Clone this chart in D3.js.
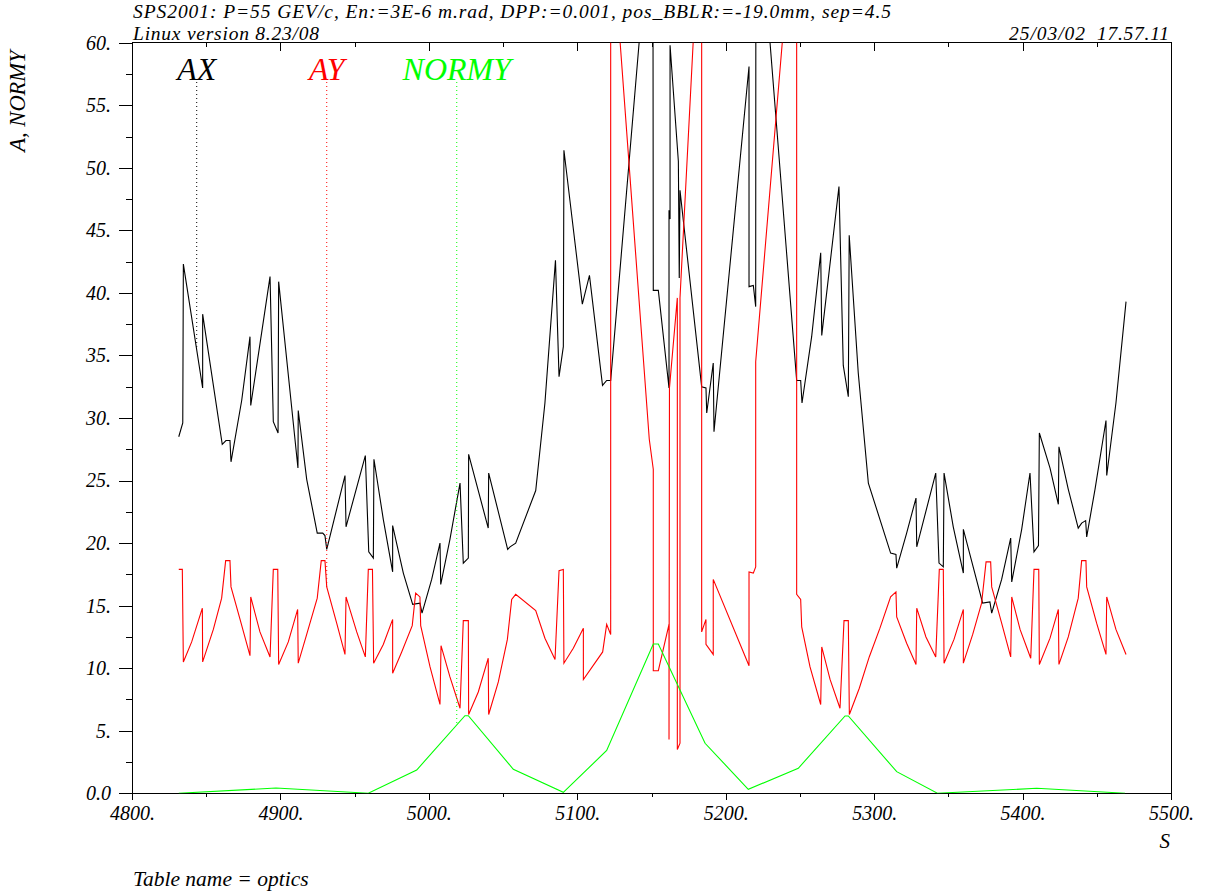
<!DOCTYPE html>
<html><head><meta charset="utf-8">
<script src="https://cdn.jsdelivr.net/npm/d3@7"></script>
<style>
html,body{margin:0;padding:0;background:#fff;}
text{font-family:"Liberation Serif","Times New Roman",serif;font-style:italic;}
</style></head>
<body>
<svg id="chart" width="1207" height="894"></svg>
<script>
// ---- data ----
const sAX = [4831.5,4834.2,4834.6,4847.6,4847.6,4860.8,4863.3,4866.0,4866.7,4873.9,
4879.5,4880.0,4893.0,4895.2,4898.4,4898.8,4911.8,4912.0,4917.7,4924.8,
4928.5,4930.0,4931.2,4943.5,4944.2,4957.2,4959.5,4962.6,4963.0,4969.3,
4975.6,4975.6,4982.8,4989.1,4994.0,4995.4,5001.9,5007.5,5008.0,5014.2,
5021.0,5023.2,5026.6,5026.8,5040.0,5040.3,5053.1,5054.7,5058.5,5072.0,
5078.2,5085.3,5087.7,5090.6,5091.0,5103.4,5108.2,5117.0,5119.8,5122.5,
5144.5,5151.0,5151.2,5154.6,5161.8,5161.8,5162.5,5162.5,5168.1,5168.7,
5169.2,5183.8,5186.7,5187.2,5191.6,5192.1,5215.7,5215.7,5218.6,5220.2,
5220.3,5227.2,5247.8,5250.5,5251.4,5257.9,5264.0,5264.7,5276.3,5279.2,
5282.6,5283.2,5289.3,5296.1,5311.1,5314.7,5315.2,5321.9,5328.2,5328.7,
5341.5,5343.7,5346.6,5347.1,5353.3,5360.1,5360.1,5373.1,5378.0,5379.2,
5385.9,5392.0,5392.7,5399.4,5405.0,5407.7,5410.7,5411.3,5418.5,5424.1,
5424.5,5430.8,5437.5,5439.8,5442.5,5443.2,5448.8,5456.2,5456.7,5462.9,
5469.7];
const ax = [28.5,29.6,42.3,32.4,38.3,27.9,28.2,28.2,26.5,31.4,
36.5,31.0,41.3,29.7,28.8,40.9,26.0,30.6,25.1,20.8,
20.8,20.6,19.5,25.4,21.3,27.0,19.3,18.8,26.7,21.9,
17.7,21.4,17.6,15.1,15.2,14.4,17.1,20.0,16.7,20.3,
24.8,18.4,18.8,27.1,21.2,25.6,19.5,19.7,20.0,24.2,
31.2,42.6,33.3,35.7,51.4,39.1,41.4,32.6,33.0,33.0,
64,64,40.2,40.2,32.4,46.6,45.9,59.8,50.5,41.2,
48.2,32.5,32.4,30.4,34.4,28.9,58.1,40.5,40.6,38.9,
64,64,33.0,33.0,31.2,36.5,43.2,36.6,48.5,34.2,
31.7,44.6,33.6,24.8,19.2,19.1,18.0,20.8,23.6,19.7,
25.6,18.4,18.1,25.6,21.3,17.6,21.1,15.2,15.3,14.4,
17.1,20.4,16.9,21.1,25.6,19.3,19.8,28.8,26.0,23.1,
27.7,24.3,21.2,21.6,21.8,20.5,24.3,29.8,25.4,31.2,
39.3];

const sAY = [4831.5,4833.9,4834.6,4840.2,4847.4,4847.6,4854.8,4860.4,4863.1,4866.0,
4866.7,4872.8,4879.5,4880.0,4886.2,4893.0,4895.2,4898.2,4898.8,4905.3,
4911.6,4912.0,4917.7,4924.8,4927.5,4930.0,4931.2,4937.9,4943.5,4944.2,
4951.4,4957.2,4959.2,4962.0,4962.8,4969.3,4975.6,4975.6,4981.7,4988.8,
4991.1,4994.0,4994.5,5000.8,5007.5,5008.2,5014.2,5021.0,5023.2,5026.6,
5026.8,5033.3,5040.0,5040.3,5046.8,5052.9,5055.8,5058.5,5072.0,5078.2,
5085.0,5087.7,5090.6,5091.0,5097.3,5104.1,5104.1,5117.1,5119.8,5122.5,
5122.5,5126.4,5148.5,5151.2,5151.2,5154.6,5161.8,5161.8,5162.1,5167.4,
5167.4,5169.2,5169.2,5179.8,5183.8,5183.8,5186.7,5186.7,5191.6,5191.6,
5215.7,5215.7,5218.6,5220.2,5220.2,5240.9,5247.8,5247.8,5250.5,5251.2,
5256.8,5264.0,5264.7,5270.3,5277.0,5279.7,5282.6,5283.3,5290.0,5296.7,
5303.9,5311.1,5314.7,5315.2,5321.9,5328.2,5328.7,5334.9,5341.5,5343.9,
5346.6,5347.1,5353.8,5360.1,5360.1,5366.4,5372.4,5375.4,5378.5,5379.2,
5385.9,5392.0,5392.7,5398.3,5405.5,5407.7,5410.9,5411.3,5418.5,5424.1,
5424.5,5430.8,5437.5,5439.8,5442.7,5443.2,5449.9,5456.2,5456.7,5462.9,
5469.7];
const ay = [17.9,17.9,10.5,12.1,14.8,10.5,13.1,15.6,18.6,18.6,
16.5,13.9,11.0,15.7,12.9,10.9,17.9,17.9,10.3,12.1,
14.7,10.4,12.7,15.6,18.6,18.6,16.5,13.6,11.1,15.7,
12.9,10.9,17.9,17.9,10.4,11.9,13.9,9.6,11.3,13.4,
16.0,15.7,13.4,10.1,7.1,11.8,9.3,6.8,13.8,13.8,
6.3,8.1,10.8,6.3,8.9,12.3,15.5,15.9,14.6,12.4,
10.7,17.8,17.9,10.4,11.6,13.2,9.1,11.3,13.5,12.7,
64,64,28.3,25.9,9.8,9.8,13.5,4.3,32.4,39.6,
3.5,4.0,39.6,64,64,12.9,13.9,11.9,11.1,17.1,
10.2,17.7,17.6,18.1,34.5,64,64,15.9,15.5,13.3,
10.1,7.1,11.7,9.1,6.8,13.8,13.8,6.3,8.4,10.9,
13.2,15.7,16.1,14.1,12.0,10.3,14.8,12.5,10.9,17.9,
17.9,10.4,12.3,14.7,10.4,12.7,15.2,18.5,18.5,16.5,
13.6,10.9,15.7,13.1,10.8,17.9,17.9,10.3,12.4,14.7,
10.3,12.5,15.6,18.6,18.6,16.5,13.6,11.1,15.7,13.1,
11.1];

const sN = [4831.5,4897.0,4959.2,4991.8,5024.3,5026.6,5056.9,5090.6,5119.8,5151.2,
5154.6,5186.1,5215.2,5248.9,5280.4,5282.6,5315.2,5342.6,5409.5,5469.0];
const normy = [0,0.42,0,1.86,6.2,6.2,1.92,0.08,3.42,11.94,
11.94,4.0,0.32,2.0,6.18,6.18,1.73,0,0.4,0];

const seriesNames = ["AX","AY","NORMY"];
const seriesColors = ["#000000","#ff0000","#00ff00"];
const legendS = [4843.6, 4931.2, 5018.8];   // s where each label's dotted line sits

const xMajor = [4800,4900,5000,5100,5200,5300,5400,5500];
const xMinor = [4850,4950,5050,5150,5250,5350,5450];
const yMajor = [0,5,10,15,20,25,30,35,40,45,50,55,60];
const yMinor = [2.5,7.5,12.5,17.5,22.5,27.5,32.5,37.5,42.5,47.5,52.5,57.5];

const titleLine1 = "SPS2001: P=55 GEV/c, En:=3E-6 m.rad, DPP:=0.001, pos_BBLR:=-19.0mm, sep=4.5";
const titleLine2 = "Linux version 8.23/08";
const dateText = "25/03/02";
const timeText = "17.57.11";
const xTitle = "S";
const yTitle = "A, NORMY";
const footer = "Table name = optics";

// ---- drawing ----
const svg = d3.select("#chart");
const L = 132, R = 1171, T = 42.7, B = 793.3;
const x = d3.scaleLinear().domain([4800,5500]).range([L,R]);
const y = d3.scaleLinear().domain([0,60]).range([B,T]);

svg.append("defs").append("clipPath").attr("id","clip")
  .append("rect").attr("x",L).attr("y",T).attr("width",R-L).attr("height",B-T);

const fmtY = d => d===0 ? "0.0" : d + ".";
const fmtX = d => d + ".";

function styleAxis(g){
  g.selectAll(".domain").remove();
  g.selectAll("line").attr("stroke","#000").attr("stroke-width",1).attr("shape-rendering","crispEdges");
  g.selectAll("text").attr("font-size",20).attr("fill","#000")
    .attr("font-family","Liberation Serif, serif").attr("font-style","italic");
}
svg.append("g").attr("transform",`translate(${L},0)`)
  .call(d3.axisLeft(y).tickValues(yMajor).tickFormat(fmtY).tickSize(13).tickPadding(8))
  .call(styleAxis);
svg.append("g").attr("transform",`translate(${L},0)`)
  .call(d3.axisLeft(y).tickValues(yMinor).tickFormat("").tickSize(6))
  .call(styleAxis);
svg.append("g").attr("transform",`translate(0,${B})`)
  .call(d3.axisBottom(x).tickValues(xMajor).tickFormat(fmtX).tickSize(7).tickPadding(6))
  .call(styleAxis);
svg.append("g").attr("transform",`translate(0,${B})`)
  .call(d3.axisBottom(x).tickValues(xMinor).tickFormat("").tickSize(4))
  .call(styleAxis);
svg.append("g").attr("transform",`translate(0,${T})`)
  .call(d3.axisTop(x).tickValues(xMajor).tickFormat("").tickSize(-8))
  .call(styleAxis);
svg.append("g").attr("transform",`translate(0,${T})`)
  .call(d3.axisTop(x).tickValues(xMinor).tickFormat("").tickSize(-4))
  .call(styleAxis);

svg.append("rect").attr("x",L).attr("y",T).attr("width",R-L).attr("height",B-T)
  .attr("fill","none").attr("stroke","#000").attr("stroke-width",1).attr("shape-rendering","crispEdges");

const line = d3.line().x(d=>x(d[0])).y(d=>y(d[1]));
const data = [
  d3.zip(sAX, ax),
  d3.zip(sAY, ay),
  d3.zip(sN, normy)
];
const plot = svg.append("g").attr("clip-path","url(#clip)");
data.forEach((pts,i)=>{
  plot.append("path").datum(pts).attr("d",line)
    .attr("fill","none").attr("stroke",seriesColors[i]).attr("stroke-width",1.1)
    .attr("stroke-linejoin","miter");
});

function interp(pts, s){
  for(let k=0;k<pts.length-1;k++){
    const a=pts[k], b=pts[k+1];
    if(s>=a[0] && s<=b[0]){
      if(b[0]===a[0]) return a[1];
      return a[1]+(b[1]-a[1])*(s-a[0])/(b[0]-a[0]);
    }
  }
  return 0;
}
seriesNames.forEach((nm,i)=>{
  const sx = x(legendS[i]);
  const vy = interp(data[i], legendS[i]);
  svg.append("line").attr("x1",sx).attr("x2",sx).attr("y1",82).attr("y2",y(vy))
    .attr("stroke",seriesColors[i]).attr("stroke-width",1).attr("stroke-dasharray","1,3");
  svg.append("text").attr("x",sx).attr("y",80).attr("text-anchor","middle")
    .attr("font-size",32).attr("fill",seriesColors[i]).text(nm);
});

svg.append("text").attr("x",133).attr("y",18).attr("font-size",19.5)
  .attr("textLength",758).attr("lengthAdjust","spacing").text(titleLine1);
svg.append("text").attr("x",133).attr("y",39.5).attr("font-size",19.5)
  .attr("textLength",186).attr("lengthAdjust","spacing").text(titleLine2);
svg.append("text").attr("x",1009).attr("y",39.5).attr("font-size",19.5)
  .attr("textLength",76).attr("lengthAdjust","spacing").text(dateText);
svg.append("text").attr("x",1097).attr("y",39.5).attr("font-size",19.5)
  .attr("textLength",72).attr("lengthAdjust","spacing").text(timeText);
svg.append("text").attr("x",1170).attr("y",848).attr("font-size",21).attr("text-anchor","end").text(xTitle);
svg.append("text").attr("transform","translate(25,101) rotate(-90)").attr("text-anchor","middle")
  .attr("font-size",22.5).text(yTitle);
svg.append("text").attr("x",133).attr("y",886).attr("font-size",21.5).text(footer);
</script>
</body></html>
